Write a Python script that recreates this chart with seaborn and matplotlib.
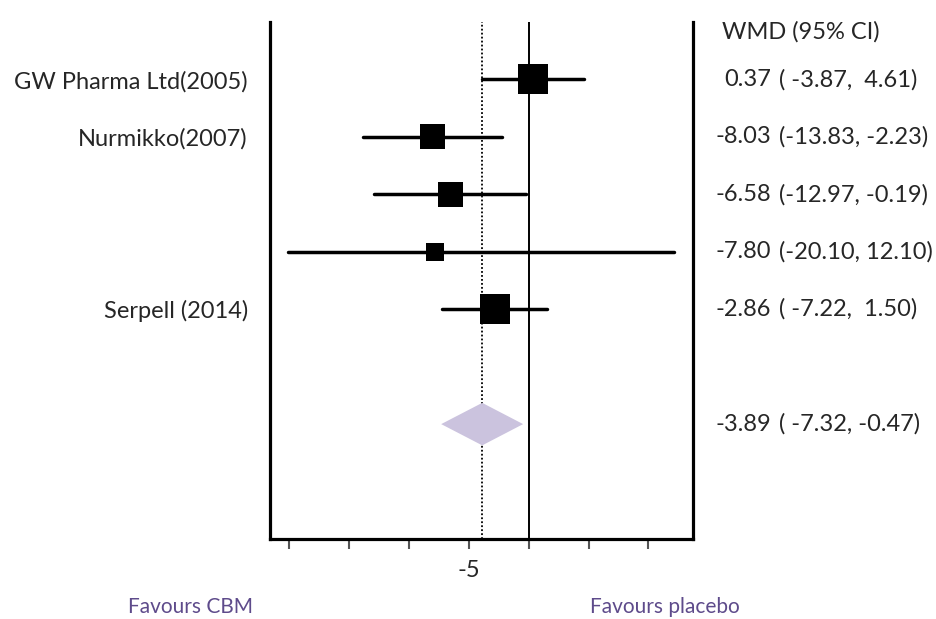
import numpy as np
import pandas as pd
import seaborn as sns
import matplotlib
matplotlib.use("Agg")
import matplotlib.pyplot as plt
import matplotlib.transforms as mtransforms

# Study-level weighted mean differences with 95% CI
studies = ["GW Pharma Ltd(2005)", "Nurmikko(2007)", "", "", "Serpell (2014)"]
wmd = [0.37, -8.03, -6.58, -7.80, -2.86]
ci_low = [-3.87, -13.83, -12.97, -20.10, -7.22]
ci_high = [4.61, -2.23, -0.19, 12.10, 1.50]
weights = [26.7, 18.5, 18.5, 9.6, 26.7]

# Pooled estimate
pooled = -3.89
pooled_low = -7.32
pooled_high = -0.47

x_ticks = [-20, -15, -10, -5, 0, 5, 10]
x_tick_labels = ["", "", "", "-5", "", "", ""]
header = "WMD (95% CI)"
left_note = "Favours CBM"
right_note = "Favours placebo"

sns.set_style("white")
plt.rcParams["font.family"] = ["Lato", "DejaVu Sans"]

FS = 17

rows = np.arange(1, len(studies) + 1)
pooled_row = len(studies) + 2
df = pd.DataFrame({"study": studies, "wmd": wmd, "lo": ci_low, "hi": ci_high,
                   "weight": weights, "row": rows})

W, H = 936, 619
fig = plt.figure(figsize=(W / 100, H / 100), dpi=100)
ax = fig.add_axes([270 / W, 1 - 539 / H, (693 - 270) / W, (539 - 22) / H])

ax.set_xlim(-21.63, 13.73)
ax.set_ylim(len(studies) + 4, 0)

# reference lines: pooled estimate (dotted) and no effect (solid)
ax.axvline(pooled, color="black", linestyle=(0, (1, 1.2)), linewidth=1.3, zorder=1)
ax.axvline(0, color="black", linewidth=1.4, zorder=1)

# confidence intervals
for _, r in df.iterrows():
    ax.plot([r["lo"], r["hi"]], [r["row"], r["row"]], color="black",
            linewidth=2.5, solid_capstyle="round", zorder=2)

# study squares sized by weight
sns.scatterplot(data=df, x="wmd", y="row", size="weight", sizes=(168, 467),
                marker="s", color="black", linewidth=0, legend=False, ax=ax, zorder=3)

# pooled diamond
h = 0.37
ax.fill([pooled_low, pooled, pooled_high, pooled],
        [pooled_row, pooled_row - h, pooled_row, pooled_row + h],
        color="#cbc3de", linewidth=0, zorder=4)

# axes styling
for side in ["left", "right", "bottom"]:
    ax.spines[side].set_visible(True)
    ax.spines[side].set_linewidth(2.3)
    ax.spines[side].set_color("black")
ax.spines["top"].set_visible(False)

ax.set_xticks(x_ticks)
ax.set_xticklabels(x_tick_labels)
ax.tick_params(axis="x", bottom=True, direction="out", length=7, width=1.5,
               color="#555555", pad=8, labelsize=FS)
ax.set_yticks(rows)
ax.set_yticklabels(studies)
ax.tick_params(axis="y", left=False, length=0, pad=16, labelsize=FS)
ax.set_xlabel("")
ax.set_ylabel("")

# right-hand text column
trans = mtransforms.blended_transform_factory(fig.transFigure, ax.transData)
est_x = 771 / W
ci_x = 779 / W
ax.text(722 / W, 1 - 32 / H, header, transform=fig.transFigure, fontsize=FS,
        ha="left", va="center")
all_est = wmd + [pooled]
all_lo = ci_low + [pooled_low]
all_hi = ci_high + [pooled_high]
all_rows = list(rows) + [pooled_row]
for e, lo, hi, rr in zip(all_est, all_lo, all_hi, all_rows):
    ax.text(est_x, rr, f"{e:.2f}", transform=trans, fontsize=FS, ha="right", va="center")
    lo_s = f"{lo:.2f}" if lo <= -10 else f" {lo:.2f}"
    hi_s = f"{hi:.2f}" if hi < 0 or hi >= 10 else f" {hi:.2f}"
    ax.text(ci_x, rr, f"({lo_s}, {hi_s})", transform=trans, fontsize=FS,
            ha="left", va="center")

# direction notes
fig.text(190 / W, 1 - 607 / H, left_note, color="#5e4b8b", fontsize=15,
         ha="center", va="center")
fig.text(665 / W, 1 - 607 / H, right_note, color="#5e4b8b", fontsize=15,
         ha="center", va="center")

fig.savefig("out.png", dpi=100)
